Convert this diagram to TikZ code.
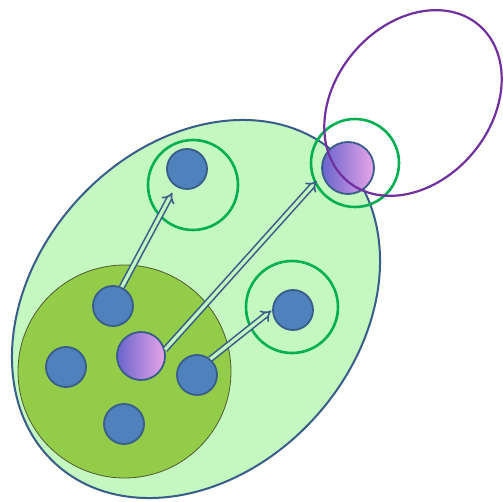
\documentclass[tikz,border=0pt]{standalone}
\usepackage{tikz}
\usetikzlibrary{arrows.meta,shapes.geometric}
\definecolor{paleg}{RGB}{196,248,192}
\definecolor{oliveg}{RGB}{146,204,72}
\definecolor{olivedge}{RGB}{80,90,50}
\definecolor{dotfill}{RGB}{79,129,189}
\definecolor{dotedge}{RGB}{56,93,138}
\definecolor{ringg}{RGB}{0,176,80}
\definecolor{purp}{RGB}{112,48,160}
\definecolor{pdark}{RGB}{105,100,205}
\definecolor{plight}{RGB}{232,165,232}

\begin{document}
\begin{tikzpicture}[x=1pt, y=1pt,
  dot/.style={circle, draw=dotedge, line width=1.8pt, fill=dotfill, minimum size=40pt, inner sep=0pt},
  hub/.style={circle, draw=dotedge, line width=1.8pt, left color=pdark, right color=plight, minimum size=#1, inner sep=0pt},
  hub/.default=48pt,
  ring/.style={circle, draw=ringg, line width=2.6pt, minimum size=#1, inner sep=0pt},
  dbl/.style={draw=dotedge, line width=1.6pt, double=paleg, double distance=3.2pt, -{Implies[length=6pt]}}]
\useasboundingbox (0,0) rectangle (503,501);
% outer region
\node[ellipse, draw=dotedge, line width=2pt, fill=paleg, minimum width=418pt, minimum height=322pt, inner sep=0pt, rotate=48] (outer) at (196,192) {};
\node[circle, draw=olivedge, line width=0.8pt, fill=oliveg, minimum size=213pt, inner sep=0pt] (core) at (124.5,129.5) {};
% agents
\node[dot] (b1) at (113,195) {};
\node[dot] (b2) at (66,134) {};
\node[dot] (b3) at (124,77) {};
\node[dot] (b4) at (197,126) {};
\node[hub] (p1) at (141,145) {};
\node[ring=90pt] (r5) at (193,316) {};
\node[ring=92pt] (r6) at (292,194) {};
\node[ring=88pt] (r7) at (355,338) {};
\node[dot] (b5) at (187,332) {};
\node[dot] (b6) at (293,191) {};
\node[hub=52pt] (p2) at (348,333) {};
% links
\draw[dbl, shorten >=7pt] (b1.65) -- (b5.237);
\draw[dbl, shorten >=8pt] (p1.15) -- (p2.195);
\draw[dbl, shorten >=1pt] (b4.50) -- (b6.west);
\node[ellipse, draw=purp, line width=2.2pt, minimum width=204pt, minimum height=156pt, inner sep=0pt, rotate=50] (loop) at (413,398) {};
\end{tikzpicture}
\end{document}
